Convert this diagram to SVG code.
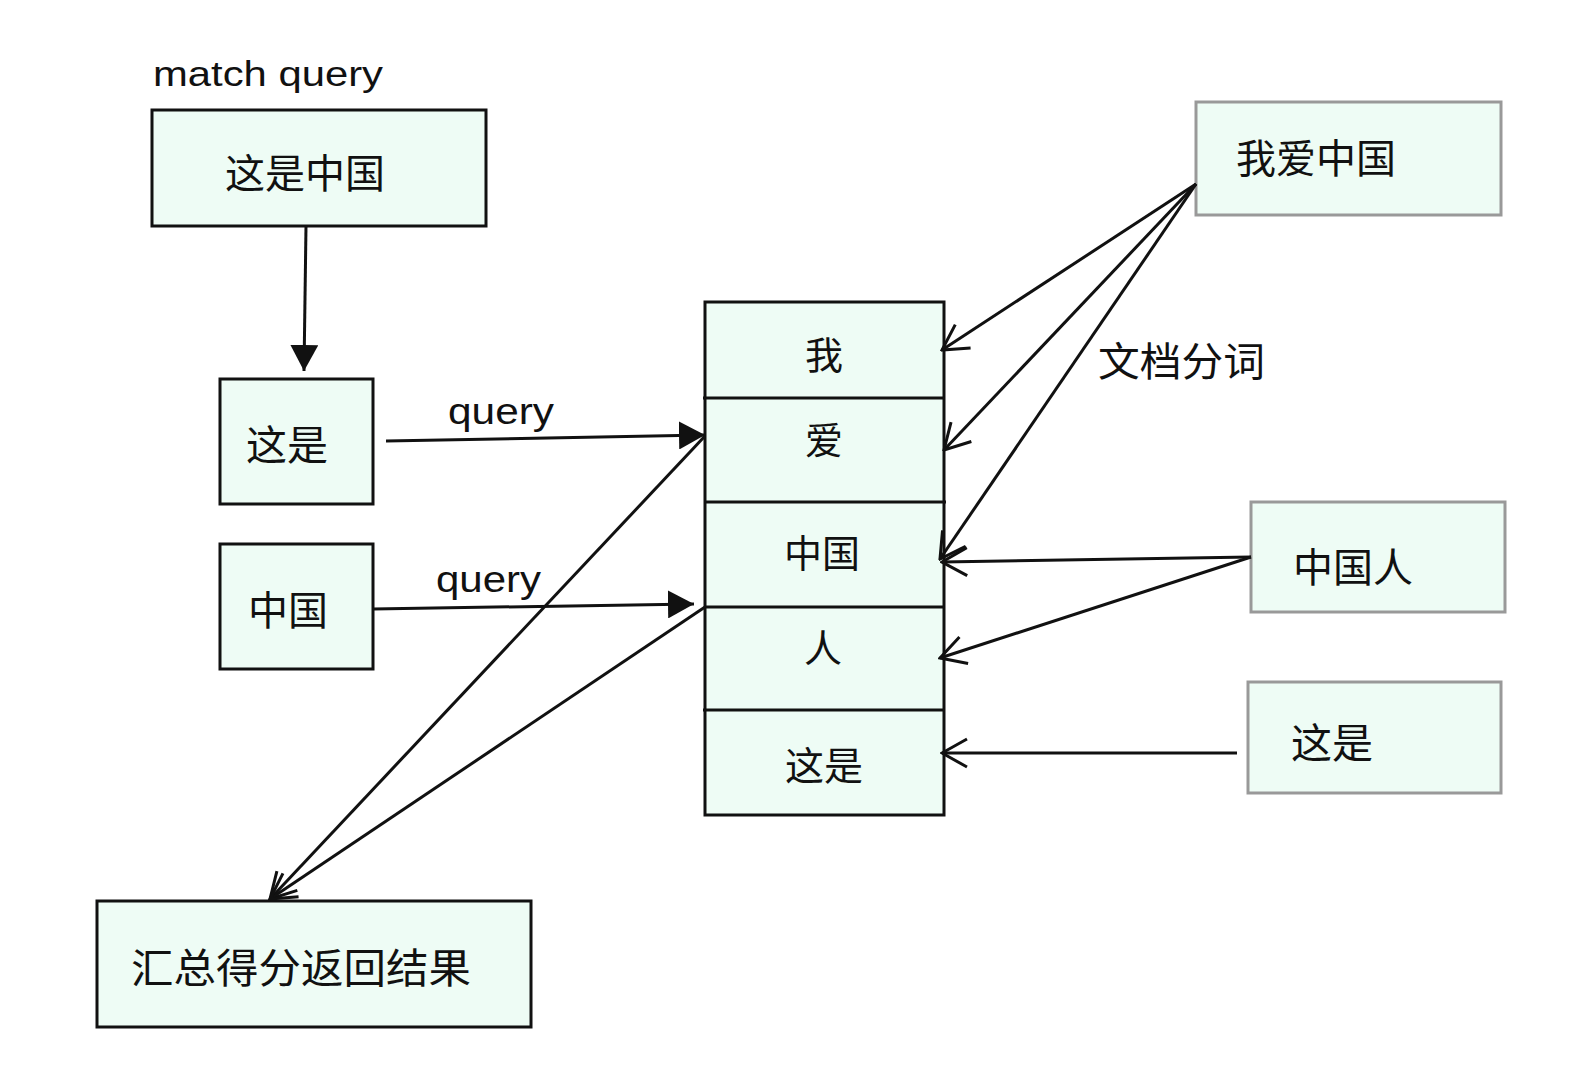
<svg xmlns="http://www.w3.org/2000/svg" width="1580" height="1086" viewBox="0 0 1580 1086">
<defs>
<style>
.box{fill:#eefcf5;stroke:#111;stroke-width:3}
.gbox{fill:#eefcf5;stroke:#999;stroke-width:3}
.cjk{font-family:"Noto Sans CJK SC","Noto Sans",sans-serif;fill:#111}
.lat{font-family:"Liberation Sans","Noto Sans",sans-serif;fill:#111}
.ln{stroke:#111;stroke-width:3;fill:none}
</style>
<marker id="fill" viewBox="0 0 26 28" refX="26" refY="14" markerWidth="26" markerHeight="28" markerUnits="userSpaceOnUse" orient="auto">
<path d="M0,0 L26,14 L0,28 Z" fill="#111"/>
</marker>
<marker id="open" viewBox="0 0 30 34" refX="28" refY="17" markerWidth="30" markerHeight="34" markerUnits="userSpaceOnUse" orient="auto">
<path d="M3,3 L28,17 L3,31" fill="none" stroke="#111" stroke-width="3"/>
</marker>
</defs>
<rect width="1580" height="1086" fill="#fff"/>

<text class="lat" x="153" y="86" font-size="35" textLength="230" lengthAdjust="spacingAndGlyphs">match query</text>

<g id="n-query">
<rect class="box" x="152" y="110" width="334" height="116"/>
<text class="cjk" x="305" y="188" font-size="40" text-anchor="middle">这是中国</text>
</g>
<g id="n-zheshi">
<rect class="box" x="220" y="379" width="153" height="125"/>
<text class="cjk" x="287" y="460" font-size="41" text-anchor="middle">这是</text>
</g>
<g id="n-zhongguo">
<rect class="box" x="220" y="544" width="153" height="125"/>
<text class="cjk" x="288" y="625" font-size="40" text-anchor="middle">中国</text>
</g>
<g id="n-index">
<rect class="box" x="705" y="302" width="239" height="513"/>
<line class="ln" x1="703" y1="398" x2="944" y2="398"/>
<line class="ln" x1="705" y1="502" x2="946" y2="502"/>
<line class="ln" x1="705" y1="607" x2="944" y2="607"/>
<line class="ln" x1="703" y1="710" x2="944" y2="710"/>
<text class="cjk" x="824" y="369" font-size="38" text-anchor="middle">我</text>
<text class="cjk" x="824" y="454" font-size="38" text-anchor="middle">爱</text>
<text class="cjk" x="822" y="567" font-size="38" text-anchor="middle">中国</text>
<text class="cjk" x="823" y="662" font-size="38" text-anchor="middle">人</text>
<text class="cjk" x="824" y="780" font-size="39" text-anchor="middle">这是</text>
</g>
<g id="n-doc1">
<rect class="gbox" x="1196" y="102" width="305" height="113"/>
<text class="cjk" x="1236" y="173" font-size="40">我爱中国</text>
</g>
<g id="n-doc2">
<rect class="gbox" x="1251" y="502" width="254" height="110"/>
<text class="cjk" x="1293" y="582" font-size="40">中国人</text>
</g>
<g id="n-doc3">
<rect class="gbox" x="1248" y="682" width="253" height="111"/>
<text class="cjk" x="1291" y="758" font-size="41">这是</text>
</g>
<g id="n-result">
<rect class="box" x="97" y="901" width="434" height="126"/>
<text class="cjk" x="131" y="983" font-size="41" textLength="340" lengthAdjust="spacingAndGlyphs">汇总得分返回结果</text>
</g>

<g id="connectors">
<line class="ln" x1="306" y1="226" x2="304" y2="371" marker-end="url(#fill)"/>
<line class="ln" x1="386" y1="441" x2="705" y2="435" marker-end="url(#fill)"/>
<line class="ln" x1="373" y1="609" x2="694" y2="604" marker-end="url(#fill)"/>
<line class="ln" x1="705" y1="436" x2="270" y2="899" marker-end="url(#open)"/>
<line class="ln" x1="705" y1="607" x2="270" y2="899" marker-end="url(#open)"/>
<line class="ln" x1="1196" y1="184" x2="942" y2="350" marker-end="url(#open)"/>
<line class="ln" x1="1196" y1="184" x2="944" y2="450" marker-end="url(#open)"/>
<line class="ln" x1="1196" y1="184" x2="940" y2="559" marker-end="url(#open)"/>
<line class="ln" x1="1251" y1="557" x2="942" y2="562" marker-end="url(#open)"/>
<line class="ln" x1="1251" y1="557" x2="940" y2="658" marker-end="url(#open)"/>
<line class="ln" x1="1237" y1="753" x2="942" y2="753" marker-end="url(#open)"/>
<text class="lat" x="448" y="424" font-size="36" textLength="106" lengthAdjust="spacingAndGlyphs">query</text>
<text class="lat" x="436" y="592" font-size="36" textLength="105" lengthAdjust="spacingAndGlyphs">query</text>
<text class="cjk" x="1098" y="376" font-size="40" textLength="167" lengthAdjust="spacingAndGlyphs">文档分词</text>
</g>
</svg>
